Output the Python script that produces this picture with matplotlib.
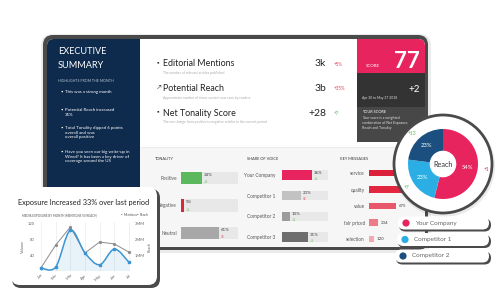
import matplotlib.pyplot as plt
import numpy as np
from matplotlib.patches import FancyBboxPatch, Circle, Rectangle, PathPatch
from matplotlib.path import Path

plt.rcParams['font.family'] = ['Lato', 'DejaVu Sans']

W, H = 500, 295

# ---- data ----
summary_bullets = ['This was a strong month',
                   'Potential Reach increased\n35%',
                   'Total Tonality dipped 6 points\noverall and was\noverall positive',
                   'Have you seen our big write-up in\nWired? It has been a key driver of\ncoverage around the US']
metric_names = ['Editorial Mentions', 'Potential Reach', 'Net Tonality Score']
metric_notes = ['The number of relevant articles published',
                'Approximate number of times content was seen by readers',
                'The net change from positive to negative articles in the current period']
metric_values = ['3k', '3b', '+28']
metric_changes = ['+5%', '+35%', '+7']
score = '77'
score_change = '+2'

tonality_labels = ['Positive', 'Negative', 'Neutral']
tonality_pct = [34, 5, 61]
tonality_delta = ['+2', '+1', '-3']

sov_labels = ['Your Company', 'Competitor 1', 'Competitor 2', 'Competitor 3']
sov_pct = [36, 23, 10, 31]
sov_delta = ['+1', '-2', '+1', '+1']

key_labels = ['service', 'quality', 'value', 'fair priced', 'selection']
key_counts = [1150, 1050, 675, 234, 120]

reach_labels = ['Your Company', 'Competitor 1', 'Competitor 2']
reach_pct = [54, 23, 23]
reach_delta = ['+1', '+7', '+13']

months = ['Jan', 'Feb', 'Mar', 'Apr', 'May', 'Jun', 'Jul']
mentions = [8, 66, 112, 46, 74, 69, 48]
reach_mm = [0.2, 0.25, 2.6, 1.15, 0.4, 1.4, 0.55]

PINK = '#e8245f'
NAVY = '#0e2a4c'
FRAME = '#4a4a4a'
LBLUE = '#2aaee3'
DBLUE = '#1b4f80'
GREEN = '#5cb85c'


def box(x0, y0, x1, y1):
    return [x0 / W, 1 - y1 / H, (x1 - x0) / W, (y1 - y0) / H]


def rbox(ax, x0, y0, x1, y1, r, fc, **kw):
    p = FancyBboxPatch((x0, y0), x1 - x0, y1 - y0,
                       boxstyle=f'round,pad=0,rounding_size={r}', fc=fc, ec='none', **kw)
    ax.add_patch(p)
    return p


def canvas(z):
    a = fig.add_axes([0, 0, 1, 1], zorder=z)
    a.set_xlim(0, W)
    a.set_ylim(H, 0)
    a.axis('off')
    a.patch.set_alpha(0)
    return a


fig = plt.figure(figsize=(5, 2.95), dpi=100)
fig.patch.set_facecolor('white')

# ---- monitor ----
bg = canvas(0)
rbox(bg, 41, 34, 431, 253, 12, '#000000', alpha=0.08)
rbox(bg, 43, 35, 428, 250, 10, FRAME)
rbox(bg, 47, 39, 425, 247, 7, 'white')
rbox(bg, 47, 39, 150, 247, 7, NAVY)
rbox(bg, 340, 39, 425, 95, 7, PINK)
bg.add_patch(Rectangle((140, 39), 217, 111, fc='white', ec='none'))
bg.add_patch(Rectangle((357, 73), 68, 34, fc='#333333', ec='none'))
bg.add_patch(Rectangle((357, 107), 68, 35, fc='#474747', ec='none'))
bg.add_patch(Rectangle((140, 148), 285, 99, fc='#f6f6f6', ec='none'))
bg.add_patch(Rectangle((140, 147), 285, 1, fc='#ececec', ec='none'))

# executive summary
bg.text(58, 52, 'EXECUTIVE', color='white', fontsize=6.6, va='center')
bg.text(58, 66, 'SUMMARY', color='white', fontsize=6.6, va='center')
bg.text(58, 81, 'HIGHLIGHTS FROM THE MONTH', color='#b8c4d4', fontsize=2.6, va='center')
for yy, t in zip([92, 110, 128, 152], summary_bullets):
    bg.text(61, yy, '\u2022', color='white', fontsize=3.2, va='center')
    bg.text(65, yy - 2.2, t, color='white', fontsize=3.2, va='top', linespacing=1.25)

# metrics
for i, (n, note, v, c) in enumerate(zip(metric_names, metric_notes, metric_values, metric_changes)):
    yy = 64 + i * 24.5
    bg.text(157, yy - 1, ['\u25aa', '\u2197', '\u25aa'][i], color='#333', fontsize=4.5, va='center')
    bg.text(163, yy, n, color='#222', fontsize=6.4, va='center')
    bg.text(163, yy + 9, note, color='#aaa', fontsize=2.4, va='center')
    bg.text(326, yy, v, color='#222', fontsize=7.5, va='center', ha='right')
    bg.text(334, yy + 0.5, c, color=GREEN if i == 2 else '#e0455f', fontsize=3.3, va='center')

# score panels
bg.text(420, 61, score, color='white', fontsize=16, fontweight='bold', va='center', ha='right')
bg.text(366, 66, 'SCORE', color='white', fontsize=3.2, va='center')
bg.text(420, 89, score_change, color='white', fontsize=7, va='center', ha='right')
bg.text(362, 98, 'Apr 30 to May 27 2018', color='#dddddd', fontsize=2.4, va='center')
bg.text(362, 112, 'YOUR SCORE', color='white', fontsize=2.8, va='center')
bg.text(362, 116, 'Your score is a weighted\ncombination of Net Exposure,\nReach and Tonality',
        color='#dddddd', fontsize=2.5, va='top', linespacing=1.35)

# section headers
bg.text(155, 159, 'TONALITY', color='#333', fontsize=2.8, va='center')
bg.text(247, 159, 'SHARE OF VOICE', color='#333', fontsize=2.8, va='center')
bg.text(340, 159, 'KEY MESSAGES', color='#333', fontsize=2.8, va='center')

# ---- tonality ----
ax1 = fig.add_axes(box(181, 164.25, 238, 246.75), zorder=1)
y1 = np.arange(len(tonality_labels))
ax1.barh(y1, [92] * len(y1), height=0.47, color='#e8e8e8')
ax1.barh(y1, tonality_pct, height=0.47, color=[GREEN, '#d8283a', '#a8a8a8'])
for i, (v, d) in enumerate(zip(tonality_pct, tonality_delta)):
    ax1.text(v + 3, i - 0.12, f'{v}%', fontsize=3.2, color='#444', va='center')
    ax1.text(v + 3, i + 0.15, d, fontsize=2.6, color=GREEN if d[0] == '+' else '#d8283a', va='center')
ax1.set_xlim(0, 92)
ax1.set_ylim(2.5, -0.5)
ax1.set_yticks(y1, tonality_labels, fontsize=3.4, color='#555')
ax1.set_xticks([])
ax1.tick_params(length=0, pad=3)
for s in ax1.spines.values():
    s.set_visible(False)
ax1.patch.set_alpha(0)

# ---- share of voice ----
ax2 = fig.add_axes(box(282, 164.65, 328, 247.35), zorder=1)
y2 = np.arange(len(sov_labels))
ax2.barh(y2, [55] * len(y2), height=0.46, color='#e8e8e8')
ax2.barh(y2, sov_pct, height=0.46, color=[PINK, '#c2c2c2', '#9c9c9c', '#6e6e6e'])
for i, (v, d) in enumerate(zip(sov_pct, sov_delta)):
    ax2.text(v + 2, i - 0.12, f'{v}%', fontsize=3.2, color='#444', va='center')
    ax2.text(v + 2, i + 0.17, d, fontsize=2.6, color=GREEN if d[0] == '+' else '#d8283a', va='center')
ax2.set_xlim(0, 55)
ax2.set_ylim(3.5, -0.5)
ax2.set_yticks(y2, sov_labels, fontsize=3.4, color='#555')
ax2.set_xticks([])
ax2.tick_params(length=0, pad=5)
for s in ax2.spines.values():
    s.set_visible(False)
ax2.patch.set_alpha(0)

# ---- key messages ----
ax3 = fig.add_axes(box(369, 164.75, 430, 247.25), zorder=1)
y3 = np.arange(len(key_labels))
ax3.barh(y3, key_counts, height=0.42, color=['#dc1f3b', '#e2263f', '#e8586a', '#ec7d87', '#f2a9b2'])
for i, v in enumerate(key_counts):
    ax3.text(v + 60, i, str(v), fontsize=3.2, color='#444', va='center')
ax3.set_xlim(0, 1525)
ax3.set_ylim(4.5, -0.5)
ax3.set_yticks(y3, key_labels, fontsize=3.4, color='#555')
ax3.set_xticks([])
ax3.tick_params(length=0, pad=3)
for s in ax3.spines.values():
    s.set_visible(False)
ax3.patch.set_alpha(0)

# ---- overlay cards ----
ov = canvas(2)
ov.add_patch(Circle((444, 166), 51, fc='#000000', alpha=0.08, ec='none'))
ov.add_patch(Circle((443, 164), 49, fc='white', ec=FRAME, lw=2))
pill_y = [223, 239.5, 256]
pill_x = [398, 397, 395]
for yy, xx, lab, col in zip(pill_y, pill_x, reach_labels, [PINK, LBLUE, DBLUE]):
    rbox(ov, xx + 1, yy - 6 + 1.5, 491, yy + 7 + 1.5, 6.5, FRAME)
    rbox(ov, xx, yy - 6.5, 489, yy + 6.5, 6.5, 'white')
    ov.add_patch(Circle((xx + 8, yy), 3.6, fc=col, ec='none'))
    ov.text(xx + 17, yy, lab, fontsize=4.6, color='#666', va='center')

# line chart card
rbox(ov, 12, 189, 160, 288, 9, FRAME)
rbox(ov, 11, 187, 157, 285, 9, 'white')
ov.text(18, 203, 'Exposure Increased 33% over last period', fontsize=5.3, color='#222', va='center')
ov.text(22, 215, 'MEDIA EXPOSURE BY MONTH (MENTIONS VS REACH)', fontsize=2.2, color='#555', va='center')
ov.text(121, 215, '\u25aa', fontsize=3, color='#8c8c8c', va='center')
ov.text(124, 215, 'Mentions', fontsize=2.4, color='#555', va='center')
ov.text(137, 215, '\u25aa', fontsize=3, color='#3b95d3', va='center')
ov.text(140, 215, 'Reach', fontsize=2.4, color='#555', va='center')

# ---- reach donut ----
axp = fig.add_axes(box(443 - 43.75, 164 - 43.75, 443 + 43.75, 164 + 43.75), zorder=3)
wedges, texts, autotexts = axp.pie(reach_pct, colors=[PINK, LBLUE, DBLUE], startangle=90,
                                   counterclock=False, labels=reach_delta, labeldistance=1.17,
                                   autopct='%d%%', pctdistance=0.7,
                                   wedgeprops=dict(width=0.62, edgecolor='none'),
                                   textprops=dict(fontsize=3.6))
for t in autotexts:
    t.set_color('white')
    t.set_fontsize(4.2)
for t, c in zip(texts, [PINK, GREEN, GREEN]):
    t.set_color(c)
axp.text(0, 0, 'Reach', ha='center', va='center', fontsize=5.2, color='#333')
axp.patch.set_alpha(0)

# ---- exposure line chart ----
axl = fig.add_axes(box(37, 222, 133, 271), zorder=3)
x = np.arange(len(months))
axl.plot(x, mentions, color='#8c8c8c', lw=0.7, marker='o', ms=1.3, clip_on=False, zorder=3)
axl.set_ylim(0, 125)
axl.set_xlim(-0.27, 6.27)
axl.set_yticks([40, 80, 120])
axl.set_xticks(x, months, rotation=45, ha='right', rotation_mode='anchor')
axl.tick_params(labelsize=3.0, labelcolor='#666', length=0, pad=1.5)
axl.grid(axis='x', color='#ececec', lw=0.5)
axl.set_ylabel('Volume', fontsize=2.8, color='#666', labelpad=2)
for s in axl.spines.values():
    s.set_visible(False)
axl.patch.set_alpha(0)

axr = axl.twinx()
axr.set_ylim(0, 3.125)
pts = np.column_stack([x, reach_mm]).astype(float)
verts = [pts[0]]
codes = [Path.MOVETO]
for i in range(len(pts) - 1):
    p0 = pts[max(i - 1, 0)]
    p1, p2 = pts[i], pts[i + 1]
    p3 = pts[min(i + 2, len(pts) - 1)]
    verts += [p1 + (p2 - p0) / 6, p2 - (p3 - p1) / 6, p2]
    codes += [Path.CURVE4] * 3
axr.add_patch(PathPatch(Path(verts + [(pts[-1][0], 0), (pts[0][0], 0), pts[0]],
                             codes + [Path.LINETO, Path.LINETO, Path.CLOSEPOLY]),
                        fc='#3b95d3', alpha=0.12, ec='none'))
axr.add_patch(PathPatch(Path(verts, codes), fc='none', ec='#3b95d3', lw=1.1))
axr.plot(x, reach_mm, ls='none', marker='s', ms=1.6, color='#3b95d3', clip_on=False)
axr.set_yticks([1, 2, 3], ['1MM', '2MM', '3MM'])
axr.tick_params(labelsize=3.0, labelcolor='#666', length=0, pad=1.5)
axr.set_ylabel('Reach', fontsize=2.8, color='#666', labelpad=2)
for s in axr.spines.values():
    s.set_visible(False)

fig.savefig('out.png', dpi=100)
